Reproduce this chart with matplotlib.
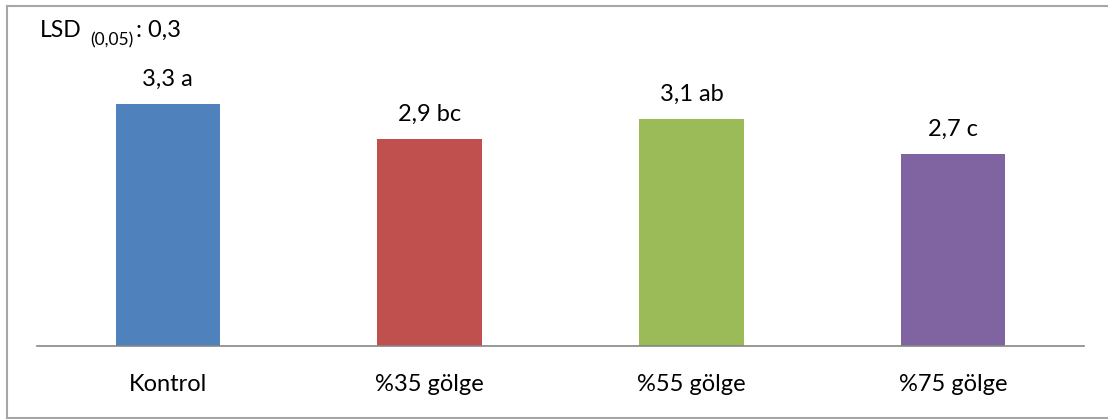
import matplotlib
matplotlib.use("Agg")
import matplotlib.pyplot as plt
from matplotlib.lines import Line2D

categories = ["Kontrol", "%35 gölge", "%55 gölge", "%75 gölge"]
values = [3.34, 2.86, 3.13, 2.65]
labels = ["3,3 a", "2,9 bc", "3,1 ab", "2,7 c"]
colors = ["#4F81BD", "#C0504D", "#9BBB59", "#8064A2"]

W, H = 1108, 419
fig = plt.figure(figsize=(W / 100, H / 100), dpi=100)
plt.rcParams['font.family'] = ['Lato', 'DejaVu Sans']

# figure border (right edge extends beyond image)
border = "#A6A6A6"
fig.add_artist(Line2D([7 / W, 1.0], [1 - 6 / H, 1 - 6 / H], color=border, lw=1.5, transform=fig.transFigure))
fig.add_artist(Line2D([7 / W, 7 / W], [1 - 6 / H, 1 - 418 / H], color=border, lw=1.5, transform=fig.transFigure))
fig.add_artist(Line2D([7 / W, 1.0], [1 - 418 / H, 1 - 418 / H], color=border, lw=1.5, transform=fig.transFigure))

ax_left, ax_right = 37 / W, 1084 / W
ax_bottom = 1 - 346 / H
ax_top = 1 - 20 / H
ax = fig.add_axes([ax_left, ax_bottom, ax_right - ax_left, ax_top - ax_bottom])
ymax = 326 / 72.46
ax.set_ylim(0, ymax)
ax.set_xlim(-0.5, len(categories) - 0.5)

x = range(len(categories))
bars = ax.bar(x, values, width=0.4, color=colors, zorder=2)
for b, lab in zip(bars, labels):
    ax.annotate(lab, (b.get_x() + b.get_width() / 2, b.get_height()),
                xytext=(0, 13), textcoords="offset points",
                ha="center", va="baseline", fontsize=17, color="black")

for s in ["top", "right", "left"]:
    ax.spines[s].set_visible(False)
ax.spines["bottom"].set_color("#868686")
ax.spines["bottom"].set_linewidth(1.2)
ax.set_yticks([])
ax.set_xticks(list(x))
ax.set_xticklabels(categories, fontsize=17)
ax.tick_params(axis="x", length=0, pad=20)

# LSD annotation
fig.text(40 / W, 1 - 37 / H, "LSD", fontsize=16.5, ha="left", va="baseline")
fig.text(90 / W, 1 - 45 / H, "(0,05)", fontsize=12.5, ha="left", va="baseline")
fig.text(136 / W, 1 - 37 / H, ": 0,3", fontsize=17, ha="left", va="baseline")

fig.savefig("out.png", dpi=100)
